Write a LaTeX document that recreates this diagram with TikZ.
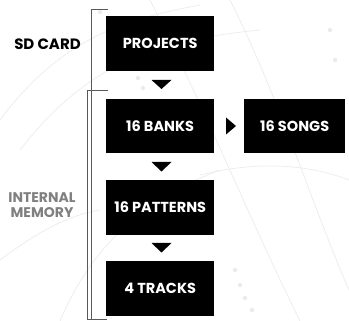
\documentclass[tikz,border=0pt]{standalone}
\usepackage{fontspec}
\setmainfont{Poppins}
\begin{document}
\begin{tikzpicture}[x=1pt,y=-1pt,
  blk/.style={fill=black,text=white,font=\bfseries\fontsize{14.5}{15}\selectfont,minimum width=108pt,minimum height=54.5pt,inner sep=0pt,anchor=north west},
  tri/.style={fill=black},
  brk/.style={draw=black!65,line width=0.8pt},
  deco/.style={draw=black!7,line width=0.8pt}]
\useasboundingbox (0,0) rectangle (349,321);
% faint background decoration
\draw[deco] (0,120) .. controls (60,40) and (120,20) .. (200,5);
\draw[deco] (20,150) .. controls (90,60) and (160,40) .. (260,30);
\draw[deco] (150,0) .. controls (210,120) and (250,220) .. (300,321);
\draw[deco] (230,0) .. controls (280,100) and (310,200) .. (349,290);
\draw[deco] (60,321) .. controls (90,250) and (140,200) .. (220,170);
\draw[deco] (200,175) .. controls (260,160) and (310,165) .. (349,180);
\draw[deco] (0,260) .. controls (40,230) and (70,215) .. (100,210);
\foreach \p in {(235,270),(240,285),(245,298),(252,310),(138,78),(143,88),(100,12),(330,30),(335,60)}
  \fill[black!8] \p circle (2.2);
% boxes
\node[blk] (proj) at (106,16) {PROJECTS};
\node[blk] (banks) at (106,98.5) {16 BANKS};
\node[blk,minimum width=101pt] (songs) at (244,98.5) {16 SONGS};
\node[blk] (pat) at (106,180) {16 PATTERNS};
\node[blk] (trk) at (106,261) {4 TRACKS};
% arrows (triangles)
\fill[tri] (151.5,80) -- (171.5,80) -- (161.5,89) -- cycle;
\fill[tri] (226,117.5) -- (236,126) -- (226,134.5) -- cycle;
\fill[tri] (151.5,162) -- (171.5,162) -- (161.5,171.5) -- cycle;
\fill[tri] (151.5,243) -- (171.5,243) -- (161.5,252.5) -- cycle;
% brackets
\draw[brk] (108,9.5) -- (91.8,9.5) -- (91.8,319);
\draw[brk] (108,90) -- (87.2,90) -- (87.2,319) -- (107,319);
% labels
\node[font=\bfseries\fontsize{15}{16}\selectfont,text=black] (sd) at (47.5,44) {SD CARD};
\node[font=\bfseries\fontsize{14}{15}\selectfont,text=black!50,align=center] (im) at (42,205) {INTERNAL\\MEMORY};
\end{tikzpicture}
\end{document}
